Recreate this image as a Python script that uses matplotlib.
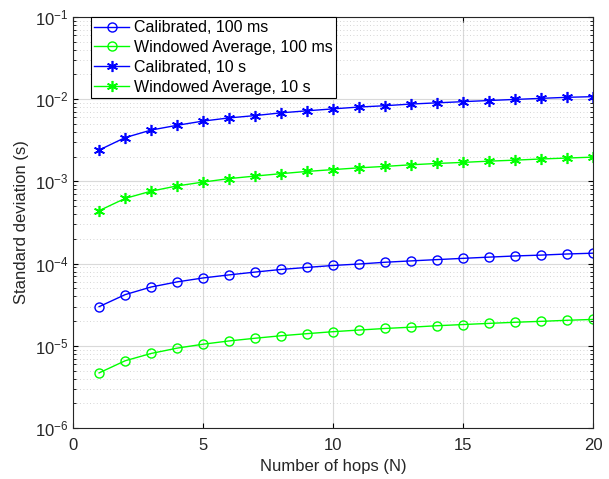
import matplotlib
matplotlib.use("Agg")
import matplotlib.pyplot as plt
from matplotlib.ticker import LogLocator, NullFormatter

plt.rcParams['font.family'] = ['Liberation Sans', 'DejaVu Sans']
plt.rcParams['mathtext.fontset'] = 'custom'
plt.rcParams['mathtext.rm'] = 'Liberation Sans'
plt.rcParams['mathtext.default'] = 'regular'

hops = list(range(1, 21))

# standard deviations (seconds)
cal_100ms = [3.0e-5, 4.2e-5, 5.2e-5, 6.0e-5, 6.7e-5, 7.3e-5, 7.9e-5, 8.5e-5, 9.0e-5, 9.5e-5,
             9.9e-5, 1.04e-4, 1.08e-4, 1.12e-4, 1.16e-4, 1.20e-4, 1.24e-4, 1.27e-4, 1.31e-4, 1.34e-4]
win_100ms = [4.7e-6, 6.6e-6, 8.1e-6, 9.4e-6, 1.05e-5, 1.15e-5, 1.24e-5, 1.33e-5, 1.41e-5, 1.49e-5,
             1.56e-5, 1.63e-5, 1.69e-5, 1.76e-5, 1.82e-5, 1.88e-5, 1.94e-5, 1.99e-5, 2.05e-5, 2.10e-5]
cal_10s = [2.4e-3, 3.4e-3, 4.2e-3, 4.8e-3, 5.4e-3, 5.9e-3, 6.3e-3, 6.8e-3, 7.2e-3, 7.6e-3,
           8.0e-3, 8.3e-3, 8.7e-3, 9.0e-3, 9.3e-3, 9.6e-3, 9.9e-3, 1.02e-2, 1.05e-2, 1.07e-2]
win_10s = [4.4e-4, 6.2e-4, 7.6e-4, 8.8e-4, 9.8e-4, 1.08e-3, 1.16e-3, 1.24e-3, 1.32e-3, 1.39e-3,
           1.46e-3, 1.52e-3, 1.59e-3, 1.65e-3, 1.70e-3, 1.76e-3, 1.81e-3, 1.87e-3, 1.92e-3, 1.97e-3]

labels = ['Calibrated, 100 ms', 'Windowed Average, 100 ms', 'Calibrated, 10 s', 'Windowed Average, 10 s']

fig = plt.figure(figsize=(6.09, 4.79), dpi=100)
ax = fig.add_axes([0.120, 0.106, 0.854, 0.859])

star = (6, 2, 0)  # asterisk, like MATLAB's '*'
ax.plot(hops, cal_100ms, color='blue', marker='o', mfc='none', ms=6.5, lw=1, label=labels[0])
ax.plot(hops, win_100ms, color='lime', marker='o', mfc='none', ms=6.5, lw=1, label=labels[1])
ax.plot(hops, cal_10s, color='blue', marker=star, ms=8, mew=1.2, lw=1, label=labels[2])
ax.plot(hops, win_10s, color='lime', marker=star, ms=8, mew=1.2, lw=1, label=labels[3])

ax.set_yscale('log')
ax.set_xlim(0, 20)
ax.set_ylim(1e-6, 1e-1)
ax.set_xticks([0, 5, 10, 15, 20])
ax.yaxis.set_major_locator(LogLocator(base=10, numticks=10))
ax.yaxis.set_minor_locator(LogLocator(base=10, subs=range(2, 10), numticks=10))
ax.yaxis.set_minor_formatter(NullFormatter())

ax.grid(True, which='major', color='#d9d9d9', lw=0.8)
ax.grid(True, which='minor', axis='y', color='#c8c8c8', lw=0.6, ls=(0, (1, 3)))
ax.tick_params(which='both', direction='in', labelsize=12, top=True, right=True,
               labelcolor='#262626')
ax.tick_params(axis='x', pad=7)
for s in ax.spines.values():
    s.set_color('#262626')
    s.set_linewidth(0.8)

ax.set_xlabel('Number of hops (N)', fontsize=12, color='#262626')
ax.set_ylabel('Standard deviation (s)', fontsize=12, color='#262626')

leg = ax.legend(loc='upper left', bbox_to_anchor=(0.034, 1.0), fontsize=11.5,
                frameon=True, fancybox=False, edgecolor='black', framealpha=1,
                borderpad=0.22, labelspacing=0.3, handlelength=2.2, handletextpad=0.3,
                borderaxespad=0)
leg.get_frame().set_linewidth(0.8)

fig.savefig('out.png', dpi=100)
